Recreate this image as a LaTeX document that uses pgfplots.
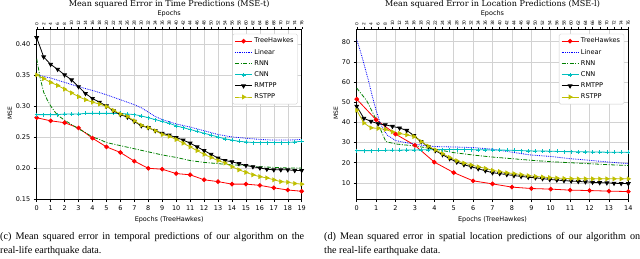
\documentclass[border=0pt]{standalone}
\usepackage{pgfplots}
\pgfplotsset{compat=1.18}
\usepackage{pgfplotstable}
\usepackage{fontspec}
\setmainfont{Liberation Serif}
\newfontfamily\dvs{DejaVu Sans}
\newfontfamily\dvserif{DejaVu Serif}

\definecolor{mred}{HTML}{FF0000}
\definecolor{mblue}{HTML}{0000FF}
\definecolor{mgreen}{HTML}{008000}
\definecolor{mcyan}{HTML}{00BFBF}
\definecolor{myellow}{HTML}{BFBF00}

% left plot: baselines sampled every 2 baseline epochs (= 0.5 TreeHawkes epoch)
\pgfplotstableread{
x cnn rmtpp rstpp
0 0.286 0.410 0.350
0.5 0.286 0.379 0.344
1 0.286 0.367 0.338
1.5 0.286 0.359 0.333
2 0.287 0.350 0.327
2.5 0.287 0.342 0.321
3 0.287 0.331 0.315
3.5 0.288 0.320 0.310
4 0.288 0.312 0.306
4.5 0.288 0.306 0.303
5 0.288 0.300 0.299
5.5 0.288 0.292 0.293
6 0.288 0.286 0.287
6.5 0.287 0.282 0.283
7 0.286 0.275 0.276
7.5 0.284 0.268 0.269
8 0.281 0.265 0.265
8.5 0.278 0.260 0.260
9 0.275 0.256 0.254
9.5 0.272 0.253 0.251
10 0.268 0.249 0.246
10.5 0.265 0.245 0.240
11 0.262 0.240 0.234
11.5 0.259 0.234 0.228
12 0.256 0.228 0.222
12.5 0.253 0.222 0.217
13 0.250 0.216 0.212
13.5 0.247 0.212 0.208
14 0.245 0.210 0.202
14.5 0.243 0.207 0.197
15 0.242 0.204 0.193
15.5 0.241 0.202 0.189
16 0.241 0.200 0.186
16.5 0.241 0.198 0.184
17 0.241 0.197 0.181
17.5 0.241 0.197 0.178
18 0.241 0.197 0.177
18.5 0.242 0.196 0.175
19 0.243 0.196 0.174
}\leftmk

% right plot: baselines at baseline epochs u = 0,2,...,76
\pgfplotstableread{
u cnn rmtpp rstpp
0 26.0 48.0 46.0
2 26.0 42.0 39.7
4 26.0 40.5 37.3
6 26.1 39.3 37.0
8 26.1 38.8 36.5
10 26.2 38.0 35.3
12 26.2 37.2 34.5
14 26.3 36.0 33.8
16 26.3 33.5 33.0
18 26.4 30.5 30.5
20 26.4 28.0 28.2
22 26.5 26.0 26.3
24 26.5 24.0 24.5
26 26.5 22.0 22.6
28 26.5 20.3 21.0
30 26.5 19.0 19.8
32 26.5 18.0 18.9
34 26.4 17.0 18.0
36 26.4 16.0 17.2
38 26.3 15.0 16.2
40 26.3 14.6 15.6
42 26.2 14.1 15.0
44 26.1 13.6 14.6
46 26.0 13.2 14.1
48 25.9 12.8 13.6
50 25.8 12.5 13.2
52 25.8 12.1 12.9
54 25.7 11.7 12.6
56 25.6 11.4 12.4
58 25.5 11.1 12.2
60 25.5 10.9 12.1
62 25.4 10.7 12.0
64 25.4 10.5 12.0
66 25.3 10.3 12.0
68 25.3 10.1 12.0
70 25.2 10.0 12.0
72 25.2 9.8 12.0
74 25.2 9.7 12.0
76 25.1 9.6 12.0
}\rightmk

\pgfplotsset{
  mainax/.style={
    scale only axis, height=170bp, anchor=south west,
    tick align=outside, major tick length=3bp,
    xtick pos=left, ytick pos=left,
    grid=major, grid style={gray!35, line width=0.5bp},
    axis line style={line width=0.6bp},
    tick style={black, line width=0.5bp},
    tick label style={font=\dvs\fontsize{6.5}{7}\selectfont},
    /pgf/number format/assume math mode=true,
    legend cell align=left,
    legend style={at={(0.985,0.972)}, anchor=north east,
      font=\dvs\fontsize{6.6}{8}\selectfont, draw=gray!40,
      rounded corners=1.5bp, fill=white, inner sep=2bp,
      row sep=0.8bp},
  },
  topax/.style={
    scale only axis, height=170bp, anchor=south west,
    xmin=0, xmax=76, ymin=0, ymax=1,
    axis x line*=top, axis y line=none,
    xtick={0,2,...,76}, tick align=outside, major tick length=2bp,
    tick style={black, line width=0.4bp},
    axis line style={line width=0.6bp},
    xticklabel style={rotate=90, anchor=west, inner sep=1bp,
      font=\dvs\fontsize{4.4}{5}\selectfont},
    /pgf/number format/assume math mode=true,
  },
  treeh/.style={mred, line width=0.8bp, mark=*, mark size=1.9bp},
  linst/.style={mblue, line width=0.8bp, densely dotted},
  rnnst/.style={mgreen, line width=0.8bp, dash pattern=on 4bp off 1.5bp on 1bp off 1.5bp},
  cnnst/.style={mcyan, line width=0.8bp, mark=+, mark size=2bp, mark options={solid, line width=0.5bp}},
  rmst/.style={black, line width=0.8bp, mark=triangle*, mark size=2.1bp, mark options={rotate=180}},
  rsst/.style={myellow, line width=0.8bp, mark=triangle*, mark size=2.1bp, mark options={rotate=-90}},
}

\begin{document}
\begin{tikzpicture}[x=1bp,y=1bp]
\path[use as bounding box] (0,0) rectangle (640,258);

% ---------------- left plot ----------------
\begin{axis}[mainax, at={(36.7bp,59bp)}, width=265bp,
  xmin=0, xmax=19, ymin=0.15, ymax=0.424,
  xtick={0,...,19}, ytick={0.15,0.20,...,0.40},
  yticklabel style={/pgf/number format/.cd, fixed, fixed zerofill, precision=2},
  ]
\addplot[treeh] coordinates {(0,0.281)(1,0.276)(2,0.273)(3,0.2645)(4,0.248)(5,0.234)(6,0.225)(7,0.211)(8,0.1995)(9,0.198)(10,0.191)(11,0.189)(12,0.181)(13,0.178)(14,0.174)(15,0.174)(16,0.172)(17,0.168)(18,0.1645)(19,0.1625)};
\addlegendentry{TreeHawkes}
\addplot[linst] coordinates {(0,0.350)(1,0.345)(2,0.338)(3,0.331)(4,0.325)(5,0.318)(6,0.310)(7,0.302)(7.5,0.297)(8,0.290)(8.5,0.283)(9,0.278)(10,0.271)(11,0.266)(12,0.260)(13,0.254)(14,0.250)(15,0.248)(16,0.246)(17,0.245)(18,0.245)(19,0.246)};
\addlegendentry{Linear}
\addplot[rnnst] coordinates {(0,0.376)(0.25,0.345)(0.5,0.322)(0.75,0.310)(1,0.300)(1.25,0.292)(1.5,0.285)(2,0.277)(2.5,0.270)(3,0.263)(3.5,0.257)(4,0.250)(4.5,0.246)(5,0.241)(6,0.236)(7,0.231)(8,0.226)(9,0.221)(10,0.217)(11,0.212)(12,0.209)(13,0.207)(14,0.205)(15,0.204)(16,0.202)(17,0.201)(18,0.200)(19,0.200)};
\addlegendentry{RNN}
\addplot[cnnst] table[x=x, y=cnn]{\leftmk};
\addlegendentry{CNN}
\addplot[rmst] table[x=x, y=rmtpp]{\leftmk};
\addlegendentry{RMTPP}
\addplot[rsst] table[x=x, y=rstpp]{\leftmk};
\addlegendentry{RSTPP}
\end{axis}
\begin{axis}[topax, at={(36.7bp,59bp)}, width=265bp]
\addplot[draw=none] coordinates {(0,0)};
\end{axis}

% ---------------- right plot ----------------
\begin{axis}[mainax, at={(356.7bp,59bp)}, width=271.6bp,
  xmin=0, xmax=14, ymin=2, ymax=86.3,
  xtick={0,...,14}, ytick={10,20,...,80},
  ]
\addplot[treeh] coordinates {(0,51.5)(1,41.3)(2,34.2)(3,28.6)(4,20.3)(5,15.1)(6,11.0)(7,9.5)(8,7.9)(9,7.2)(10,6.9)(11,6.4)(12,6.2)(13,5.9)(14,5.7)};
\addlegendentry{TreeHawkes}
\addplot[linst] coordinates {(0,81)(0.2,75)(0.4,68)(0.6,61)(0.8,53)(1.0,46)(1.2,40)(1.4,36)(1.6,33.5)(2,31)(2.5,30)(3,29.2)(3.5,28.5)(4,28.0)(5,27.8)(6,27.5)(7,26.7)(8,25.2)(9,23.8)(10,23.1)(11,22.0)(12,21.2)(13,20.3)(14,19.5)};
\addlegendentry{Linear}
\addplot[rnnst] coordinates {(0,57)(0.5,51)(1,41.5)(1.5,30.5)(2,29.3)(3,28.3)(4,26.8)(5,25)(6,23.8)(7,22.8)(8,22)(9,21.2)(10,20.5)(11,20)(12,19.5)(13,19)(14,18.6)};
\addlegendentry{RNN}
\addplot[cnnst] table[x expr=\thisrow{u}*14/76, y=cnn]{\rightmk};
\addlegendentry{CNN}
\addplot[rmst] table[x expr=\thisrow{u}*14/76, y=rmtpp]{\rightmk};
\addlegendentry{RMTPP}
\addplot[rsst] table[x expr=\thisrow{u}*14/76, y=rstpp]{\rightmk};
\addlegendentry{RSTPP}
\end{axis}
\begin{axis}[topax, at={(356.7bp,59bp)}, width=271.6bp]
\addplot[draw=none] coordinates {(0,0)};
\end{axis}

% ---------------- titles and labels ----------------
\node[font=\dvserif\fontsize{8.1}{9}\selectfont] at (169.2,253.3) {Mean squared Error in Time Predictions (MSE-t)};
\node[font=\dvserif\fontsize{8.1}{9}\selectfont] at (492.5,253.3) {Mean squared Error in Location Predictions (MSE-l)};
\node[font=\dvs\fontsize{6.5}{7}\selectfont] at (169.2,244.5) {Epochs};
\node[font=\dvs\fontsize{6.5}{7}\selectfont] at (492.5,244.5) {Epochs};
\node[font=\dvs\fontsize{6.5}{7}\selectfont] at (169.2,38.5) {Epochs (TreeHawkes)};
\node[font=\dvs\fontsize{6.5}{7}\selectfont] at (492.5,38.5) {Epochs (TreeHawkes)};
\node[font=\dvs\fontsize{6}{7}\selectfont, rotate=90] at (10,144.5) {MSE};
\node[font=\dvs\fontsize{6}{7}\selectfont, rotate=90] at (336,144.5) {MSE};

% ---------------- captions ----------------
\node[anchor=north west, inner sep=0pt, text width=304bp, align=justify,
  font=\fontsize{10.2}{13.8}\selectfont] at (0,26)
  {(c) Mean squared error in temporal predictions of our algorithm on the\linebreak \mbox{real-life} earthquake data.};
\node[anchor=north west, inner sep=0pt, text width=316bp, align=justify,
  font=\fontsize{10.2}{13.8}\selectfont] at (324,26)
  {(d) Mean squared error in spatial location predictions of our algorithm on\linebreak the \mbox{real-life} earthquake data.};
\end{tikzpicture}
\end{document}
